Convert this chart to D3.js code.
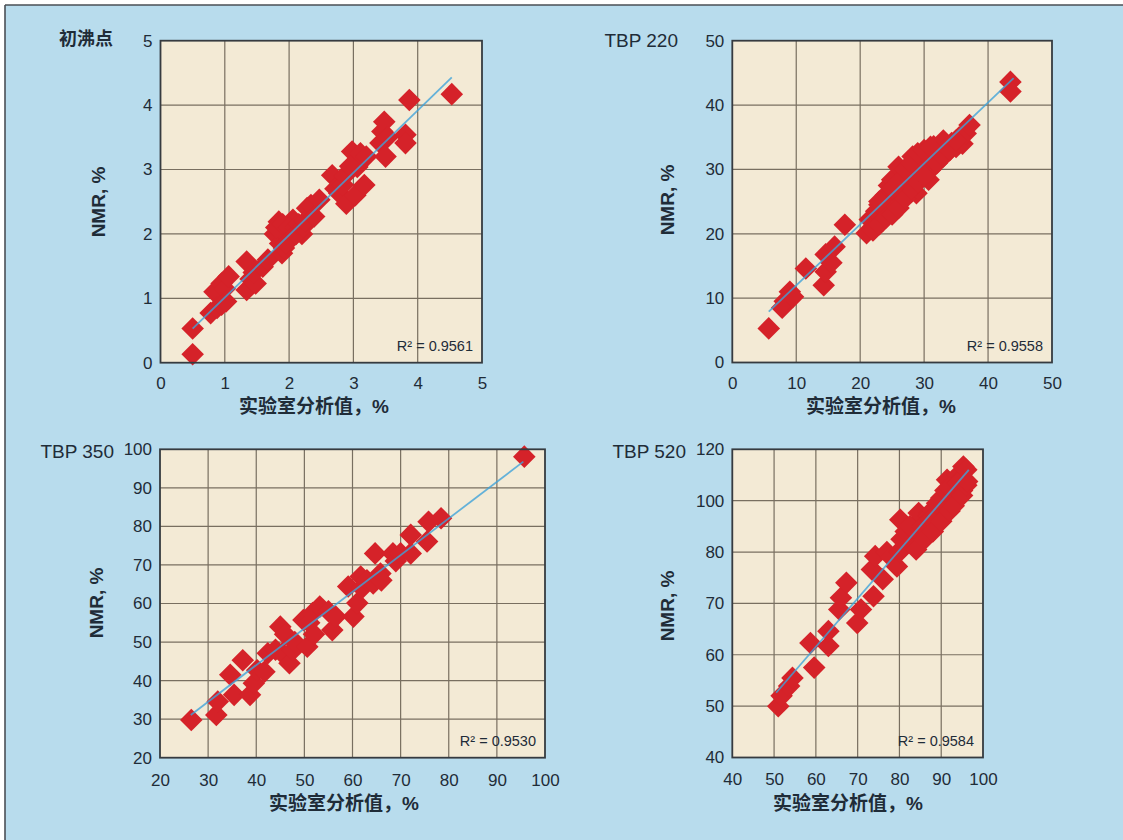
<!DOCTYPE html>
<html>
<head>
<meta charset="utf-8">
<script src="https://cdn.jsdelivr.net/npm/d3@7"></script>
<style>
  html, body { margin: 0; padding: 0; background: #ffffff; }
  svg { display: block; }
  text { font-family: "Liberation Sans", Arial, "Noto Sans CJK SC", sans-serif; fill: #1f2c38; }
</style>
</head>
<body>
<svg id="chart" width="1123" height="840"></svg>
<script>
// ---------- data ----------
const titles = ["初沸点", "TBP 220", "TBP 350", "TBP 520"];
const xAxisTitle = "实验室分析值，%";
const yAxisTitle = "NMR, %";
const r2Labels = ["R² = 0.9561", "R² = 0.9558", "R² = 0.9530", "R² = 0.9584"];

const xTicks1 = [0, 1, 2, 3, 4, 5];
const yTicks1 = [0, 1, 2, 3, 4, 5];
const xTicks2 = [0, 10, 20, 30, 40, 50];
const yTicks2 = [0, 10, 20, 30, 40, 50];
const xTicks3 = [20, 30, 40, 50, 60, 70, 80, 90, 100];
const yTicks3 = [20, 30, 40, 50, 60, 70, 80, 90, 100];
const xTicks4 = [40, 50, 60, 70, 80, 90, 100];
const yTicks4 = [40, 50, 60, 70, 80, 100, 120];

// points: [lab value, NMR value]
const points1 = [[0.5,0.13],[0.5,0.53],[0.78,0.77],[0.84,1.1],[0.88,0.85],[0.95,0.9],[0.95,1.23],[1.0,1.15],
  [1.06,1.34],[1.02,0.95],[1.34,1.57],[1.34,1.13],[1.40,1.3],[1.48,1.23],[1.45,1.4],[1.59,1.49],[1.67,1.6],
  [1.78,2.0],[1.84,2.19],[1.86,1.85],[1.89,1.7],[1.95,2.0],[1.92,1.78],[2.0,1.9],[2.06,2.22],[2.04,2.05],
  [1.8,2.1],[1.9,2.15],[2.0,2.1],[1.95,1.85],[2.1,2.1],[2.2,2.0],
  [2.11,2.0],[2.15,2.15],[2.22,2.11],[2.28,2.4],[2.25,2.2],[2.34,2.45],[2.39,2.27],[2.47,2.53],[2.67,2.91],
  [2.72,2.7],[2.78,2.63],[2.84,2.76],[2.86,2.9],[2.89,2.47],[2.98,3.28],[2.95,3.05],[3.03,2.6],[3.06,3.04],
  [3.11,3.25],[3.17,2.76],[3.2,3.2],[3.42,3.41],[3.45,3.59],[3.48,3.74],[3.5,3.2],[3.53,3.5],[3.81,3.54],
  [3.81,3.41],[3.87,4.08],[4.53,4.17]];
const points2 = [[5.7,5.3],[7.8,8.5],[8.2,9.5],[9.0,11.0],[9.5,10.2],[11.5,14.6],[14.3,12.0],[14.6,14.1],
  [14.6,16.8],[15.5,15.5],[16.0,18.0],[17.6,21.4],[21.0,20.1],[21.5,22.2],[22.2,21.0],[22.5,23.5],[23.0,24.5],
  [23.5,22.0],[24.0,26.0],[24.0,23.5],[24.5,27.5],[24.9,25.0],[25.0,28.4],[25.5,24.0],[25.5,26.5],[26.0,30.4],
  [26.0,27.0],[26.5,25.5],[27.0,29.0],[27.0,28.0],[27.5,30.5],[28.0,26.5],[28.2,32.0],[28.5,29.5],[28.8,26.3],
  [29.0,31.0],[29.5,30.0],[30.0,32.5],[30.7,28.4],[30.5,31.0],[31.0,30.0],[31.5,33.6],[32.0,32.0],[32.5,33.0],
  [33.0,34.5],[33.5,33.0],[34.3,34.1],[35.0,33.5],[35.5,35.0],[36.0,34.0],[36.5,35.6],[37.1,36.9],
  [22.0,20.5],[23.0,21.5],[24.0,22.5],[25.0,23.0],[26.0,24.0],[27.0,25.5],[28.0,27.0],[29.0,28.0],[30.0,29.0],
  [31.0,31.5],[32.0,31.0],[33.0,32.0],[34.0,33.0],[35.0,34.5],[23.0,25.0],[25.0,27.0],[26.0,28.0],[27.0,30.0],
  [28.0,31.0],[29.0,32.5],[30.0,33.0],[31.0,33.5],
  [43.5,43.6],[43.5,42.1]];
const points3 = [[26.5,29.8],[31.7,31.1],[32.0,34.6],[34.6,41.5],[35.4,36.3],[37.2,45.3],[38.7,36.3],
  [39.5,39.3],[40.2,42.7],[41.7,42.3],[42.4,47.1],[44.0,48.0],[45.0,54.0],[45.4,47.1],[46.0,52.0],[46.9,44.5],
  [47.6,47.9],[48.0,50.0],[49.8,55.7],[50.6,48.8],[51.0,55.0],[51.7,57.5],[52.0,52.0],[53.2,59.2],[55.0,58.0],
  [55.8,53.1],[56.5,56.6],[59.1,64.4],[60.2,56.6],[61.0,60.1],[61.7,67.0],[62.0,64.0],[63.0,66.0],[64.3,65.2],
  [64.7,73.0],[65.8,67.8],[66.0,66.0],[68.4,73.0],[69.0,71.0],[70.0,73.0],[72.1,73.0],[72.1,77.8],[75.5,76.1],
  [75.8,81.2],[78.4,82.1],[95.7,98.1]];
const points4 = [[51.0,50.0],[51.8,52.0],[53.6,53.9],[54.4,55.5],[58.7,62.3],[59.6,57.5],[63.0,61.7],
  [63.0,64.6],[65.6,68.8],[66.0,71.1],[67.3,74.0],[69.9,66.2],[70.8,68.8],[73.8,71.4],[73.4,76.6],[74.2,79.2],
  [76.0,74.7],[77.0,80.0],[78.0,79.0],[79.4,77.2],[80.0,80.0],[80.2,92.6],[81.1,82.2],[82.0,86.0],[82.0,84.0],
  [83.0,88.0],[83.7,83.5],[84.0,91.0],[84.0,81.0],[84.6,95.2],[85.0,87.0],[86.0,93.0],[86.3,90.0],[87.0,94.0],
  [88.0,96.5],[88.0,91.0],[89.0,97.0],[89.7,92.6],[90.0,95.0],[90.0,101.0],[91.0,98.0],[91.4,108.1],
  [92.0,103.0],[92.3,99.0],[93.0,101.0],[93.0,107.0],[94.0,105.5],[94.0,110.0],[95.0,104.0],[95.0,109.0],
  [80.5,85.0],[81.5,88.0],[82.5,90.0],[85.5,90.0],[87.5,93.0],[89.0,99.0],[91.0,104.0],[92.0,105.0],
  [94.0,107.0],[86.0,85.0],[88.0,88.0],[90.0,92.0],[92.0,96.0],[93.0,98.0],[95.0,102.0],[96.0,106.0],
  [95.3,113.3],[96.0,112.0],[96.2,107.5]];

// trend lines: [start, end]
const trend1 = [[0.5, 0.53], [4.53, 4.43]];
const trend2 = [[5.7, 7.9], [44.0, 44.2]];
const trend3 = [[26.4, 31.1], [95.5, 96.8]];
const trend4 = [[50.5, 52.6], [96.6, 112.0]];

// ---------- layout ----------
const panels = [
  { title: titles[0], bold: true, pts: points1, trend: trend1, r2: r2Labels[0],
    xt: xTicks1, yt: yTicks1, xDom: [0, 5], yDom: [0, 5],
    left: 160.5, right: 482, top: 40.7, bottom: 362.7,
    titleEnd: 113, titleY: 39, xTitle: [314, 406], yTitle: [98, 202], xPad: 14 },
  { title: titles[1], bold: false, pts: points2, trend: trend2, r2: r2Labels[1],
    xt: xTicks2, yt: yTicks2, xDom: [0, 50], yDom: [0, 50],
    left: 732.3, right: 1052, top: 40.7, bottom: 362.5,
    titleEnd: 678, titleY: 40, xTitle: [881, 406], yTitle: [667, 200], xPad: 14 },
  { title: titles[2], bold: false, pts: points3, trend: trend3, r2: r2Labels[2],
    xt: xTicks3, yt: yTicks3, xDom: [20, 100], yDom: [20, 100],
    left: 160, right: 545, top: 449.3, bottom: 757.7,
    titleEnd: 114, titleY: 451.5, xTitle: [344, 803], yTitle: [96, 603], xPad: 16 },
  { title: titles[3], bold: false, pts: points4, trend: trend4, r2: r2Labels[3],
    xt: xTicks4, yt: yTicks4, xDom: [40, 100], yDom: [40, 80, 120],
    left: 732.3, right: 983, top: 449.3, bottom: 757.5,
    titleEnd: 686, titleY: 451.5, xTitle: [848, 803], yTitle: [667, 606], xPad: 15 }
];

const svg = d3.select("#chart");

// background with top / left border
svg.append("rect").attr("x", 5).attr("y", 5).attr("width", 1118).attr("height", 835).attr("fill", "#b8dced");
svg.append("line").attr("x1", 5).attr("y1", 5).attr("x2", 1123).attr("y2", 5)
  .attr("stroke", "#4a4f55").attr("stroke-width", 1.6);
svg.append("line").attr("x1", 5).attr("y1", 5).attr("x2", 5).attr("y2", 840)
  .attr("stroke", "#4a4f55").attr("stroke-width", 1.6);

const diamond = d3.symbol().type(d3.symbolSquare).size(255);

panels.forEach(p => {
  const x = d3.scaleLinear().domain(p.xDom).range([p.left, p.right]);
  let y;
  if (p.yDom.length === 3) {
    // axis with unequal label spacing: 40-80 in steps of 10, then 80-120 in steps of 20
    const h = p.bottom - p.top;
    y = d3.scaleLinear().domain(p.yDom).range([p.bottom, p.bottom - h * 4 / 6, p.top]);
  } else {
    y = d3.scaleLinear().domain(p.yDom).range([p.bottom, p.top]);
  }
  const g = svg.append("g");

  // plot background
  g.append("rect").attr("x", p.left).attr("y", p.top)
    .attr("width", p.right - p.left).attr("height", p.bottom - p.top).attr("fill", "#f3ead5");

  // grid
  g.append("g").selectAll("line").data(p.xt.slice(1, -1)).join("line")
    .attr("x1", d => x(d)).attr("x2", d => x(d)).attr("y1", p.top).attr("y2", p.bottom)
    .attr("stroke", "#786f60").attr("stroke-width", 1.2);
  g.append("g").selectAll("line").data(p.yt.slice(1, -1)).join("line")
    .attr("y1", d => y(d)).attr("y2", d => y(d)).attr("x1", p.left).attr("x2", p.right)
    .attr("stroke", "#786f60").attr("stroke-width", 1.2);

  // markers
  g.append("g").selectAll("path").data(p.pts).join("path")
    .attr("d", diamond)
    .attr("transform", d => `translate(${x(d[0])},${y(d[1])}) rotate(45)`)
    .attr("fill", "#d52229");

  // trend line
  g.append("path").datum(p.trend)
    .attr("d", d3.line().x(d => x(d[0])).y(d => y(d[1])))
    .attr("fill", "none").attr("stroke", "#3fa3da").attr("stroke-width", 1.8).attr("opacity", 0.8);

  // frame
  g.append("rect").attr("x", p.left).attr("y", p.top)
    .attr("width", p.right - p.left).attr("height", p.bottom - p.top)
    .attr("fill", "none").attr("stroke", "#363b40").attr("stroke-width", 1.8);

  // axes
  const ax = g.append("g").attr("transform", `translate(0,${p.bottom})`)
    .call(d3.axisBottom(x).tickValues(p.xt).tickSize(0).tickPadding(p.xPad).tickFormat(d3.format("d")));
  const ay = g.append("g").attr("transform", `translate(${p.left},0)`)
    .call(d3.axisLeft(y).tickValues(p.yt).tickSize(0).tickPadding(8).tickFormat(d3.format("d")));
  [ax, ay].forEach(a => {
    a.select(".domain").remove();
    a.selectAll("text").attr("font-size", 17).attr("fill", "#25313d")
      .attr("font-family", "'Liberation Sans', Arial, sans-serif");
  });

  // R² label
  g.append("text").attr("x", p.right - 9).attr("y", p.bottom - 17)
    .attr("text-anchor", "end").attr("dominant-baseline", "central")
    .attr("font-size", 14.5).text(p.r2);

  // panel title
  g.append("text").attr("x", p.titleEnd).attr("y", p.titleY)
    .attr("text-anchor", "end").attr("dominant-baseline", "central")
    .attr("font-size", p.bold ? 18 : 19).attr("font-weight", p.bold ? "bold" : "normal")
    .text(p.title);

  // axis titles
  g.append("text").attr("x", p.xTitle[0]).attr("y", p.xTitle[1])
    .attr("text-anchor", "middle").attr("dominant-baseline", "central")
    .attr("font-size", 19).attr("font-weight", "bold").text(xAxisTitle);
  g.append("text")
    .attr("transform", `translate(${p.yTitle[0]},${p.yTitle[1]}) rotate(-90)`)
    .attr("text-anchor", "middle").attr("dominant-baseline", "central")
    .attr("font-size", 19).attr("font-weight", "bold").text(yAxisTitle);
});
</script>
</body>
</html>
